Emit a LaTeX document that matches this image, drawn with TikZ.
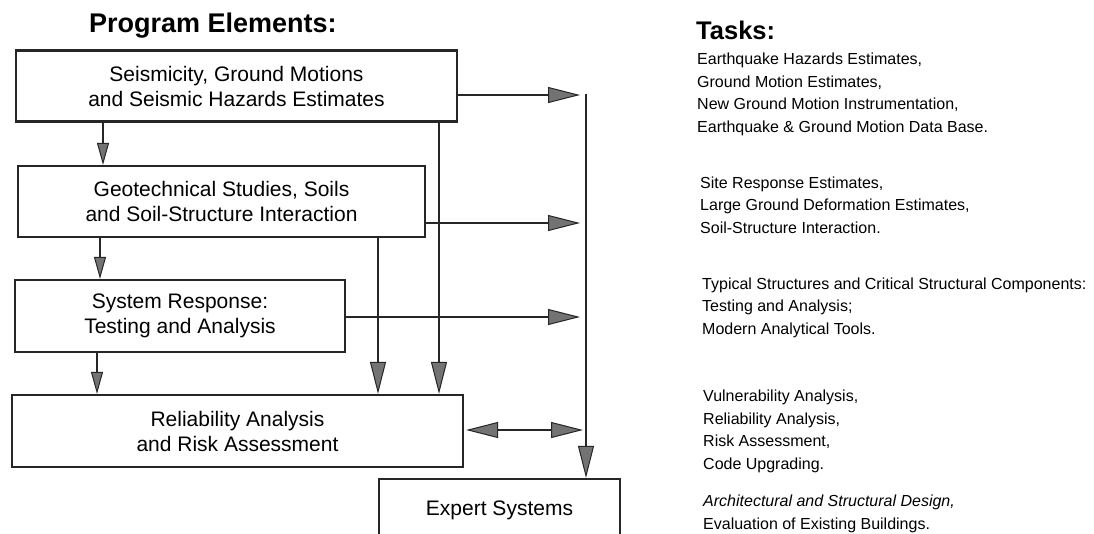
\documentclass[tikz,border=0pt]{standalone}
\usepackage{fontspec}
\setmainfont{Liberation Sans}
\usetikzlibrary{arrows.meta}
\begin{document}
\begin{tikzpicture}[x=1pt,y=-1pt,
  box/.style={draw=black!85, line width=2.2pt, rectangle, align=center, inner sep=0pt, font=\fontsize{21}{25}\selectfont},
  conn/.style={draw=black!85, line width=2.2pt},
  bigtip/.style={-{Triangle[length=32pt,width=16pt,fill=black!55,line width=1pt]}},
  smalltip/.style={-{Triangle[length=22pt,width=12pt,fill=black!55,line width=1pt]}},
  dbltip/.style={{Triangle[length=32pt,width=16pt,fill=black!55,line width=1pt]}-{Triangle[length=32pt,width=16pt,fill=black!55,line width=1pt]}},
  titletext/.style={anchor=base west, inner sep=0pt, font=\bfseries\fontsize{27}{30}\selectfont},
  tasktext/.style={anchor=base west, align=left, inner sep=0pt, font=\fontsize{16}{22.4}\selectfont}
]
\useasboundingbox (0,0) rectangle (1094,533);
\clip (0,0) rectangle (1094,533);
\fill[white] (0,0) rectangle (1094,533);

\node[titletext] (pe) at (89,32) {Program Elements:};
\node[titletext, font=\bfseries\fontsize{25.5}{28}\selectfont] (tk) at (696,39) {Tasks:};

\node[box, minimum width=441pt, minimum height=71pt] (b1) at (236.5,86) {Seismicity, Ground Motions\\and Seismic Hazards Estimates};
\node[box, minimum width=407pt, minimum height=71pt] (b2) at (221.5,201.5) {Geotechnical Studies, Soils\\and Soil-Structure Interaction};
\node[box, minimum width=330pt, minimum height=72pt] (b3) at (180,316) {System Response:\\Testing and Analysis};
\node[box, minimum width=451pt, minimum height=72pt] (b4) at (237.5,431) {Reliability Analysis\\and Risk Assessment};
\node[box, minimum width=241pt, minimum height=62pt] (ex) at (499.5,510) {Expert Systems};

\coordinate (bus) at (586,94);
\coordinate (xa) at (103,0);
\coordinate (xb) at (100,0);
\coordinate (xc) at (97,0);
\coordinate (xd) at (439,0);
\coordinate (xe) at (378,0);
\coordinate (ya) at (0,95);
\coordinate (yb) at (0,223);
\coordinate (yc) at (0,317);
\coordinate (yd) at (0,430);

\draw[conn, smalltip] (b1.south -| xa) -- (b2.north -| xa);
\draw[conn, smalltip] (b2.south -| xb) -- (b3.north -| xb);
\draw[conn, smalltip] (b3.south -| xc) -- (b4.north -| xc);
\draw[conn, bigtip] (b1.south -| xd) -- (b4.north -| xd);
\draw[conn, bigtip] (b2.south -| xe) -- (b4.north -| xe);
\draw[conn, bigtip, shorten >=6pt] (b1.east |- ya) -- (bus |- ya);
\draw[conn, bigtip, shorten >=6pt] (b2.east |- yb) -- (bus |- yb);
\draw[conn, bigtip, shorten >=6pt] (b3.east |- yc) -- (bus |- yc);
\draw[conn, dbltip, shorten <=2pt, shorten >=3pt] (b4.east |- yd) -- (bus |- yd);
\draw[conn, bigtip] (bus) -- (ex.north -| bus);

\node[tasktext] (t1) at (697,132) {Earthquake Hazards Estimates,\\Ground Motion Estimates,\\New Ground Motion Instrumentation,\\Earthquake \& Ground Motion Data Base.};
\node[tasktext] (t2) at (700,233) {Site Response Estimates,\\Large Ground Deformation Estimates,\\Soil-Structure Interaction.};
\node[tasktext] (t3) at (702,334) {Typical Structures and Critical Structural Components:\\Testing and Analysis;\\Modern Analytical Tools.};
\node[tasktext] (t4) at (703,469) {Vulnerability Analysis,\\Reliability Analysis,\\Risk Assessment,\\Code Upgrading.};
\node[tasktext] (t5) at (703,529) {\textit{Architectural and Structural Design,}\\Evaluation of Existing Buildings.};
\end{tikzpicture}
\end{document}
